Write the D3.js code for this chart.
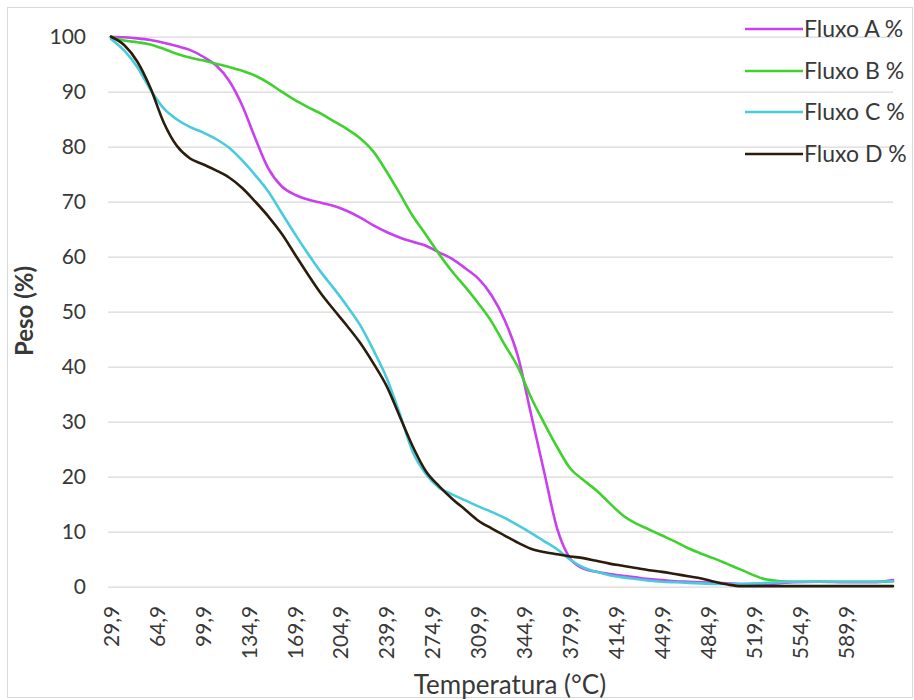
<!DOCTYPE html>
<html>
<head>
<meta charset="utf-8">
<script src="https://cdn.jsdelivr.net/npm/d3@7"></script>
<style>
  html, body { margin: 0; padding: 0; background: #fff; }
  svg { display: block; }
  text { font-family: Lato, "Open Sans", sans-serif; fill: #383838; }
</style>
</head>
<body>
<svg id="chart" width="914" height="700"></svg>
<script>
// Temperature samples (°C)
const temps = [
  29.9, 39.9, 49.9, 59.9, 69.9, 79.9, 89.9, 99.9, 109.9, 119.9,
  129.9, 139.9, 149.9, 159.9, 169.9, 179.9, 189.9, 199.9, 209.9, 219.9,
  229.9, 239.9, 249.9, 259.9, 269.9, 279.9, 289.9, 299.9, 309.9, 319.9,
  329.9, 339.9, 349.9, 359.9, 369.9, 379.9, 389.9, 399.9, 409.9, 419.9,
  429.9, 439.9, 449.9, 459.9, 469.9, 479.9, 489.9, 499.9, 509.9, 529.9,
  549.9, 569.9, 589.9, 609.9, 625.9
];

// Remaining mass (%) for each flux
const fluxoA = [
  100, 99.9, 99.7, 99.4, 98.9, 98.3, 97.6, 96.4, 94.8, 92.0,
  87.5, 81.5, 76.0, 72.8, 71.3, 70.4, 69.8, 69.2, 68.3, 67.1,
  65.7, 64.5, 63.5, 62.7, 62.0, 60.8, 59.6, 57.9, 56.0, 53.0,
  48.5, 42.0, 31.5, 21.0, 10.6, 5.1, 3.3, 2.7, 2.3, 2.0,
  1.7, 1.4, 1.2, 1.0, 0.9, 0.8, 0.7, 0.6, 0.5, 0.5,
  0.8, 0.9, 0.8, 0.8, 1.2
];
const fluxoB = [
  100, 99.3, 99.0, 98.6, 97.8, 96.9, 96.2, 95.7, 95.1, 94.5,
  93.8, 92.9, 91.6, 90.0, 88.5, 87.2, 86.0, 84.6, 83.2, 81.5,
  79.1, 75.5, 71.5, 67.4, 64.0, 60.5, 57.3, 54.5, 51.5, 48.2,
  44.0, 40.0, 34.5, 29.8, 25.4, 21.5, 19.4, 17.5, 15.2, 13.0,
  11.5, 10.4, 9.3, 8.2, 7.0, 6.0, 5.1, 4.1, 3.1, 1.3,
  0.9, 0.9, 0.9, 0.9, 1.0
];
const fluxoC = [
  99.6, 97.5, 94.5, 90.4, 87.0, 85.0, 83.6, 82.6, 81.4, 79.8,
  77.5, 74.8, 71.8, 68.0, 64.2, 60.6, 57.2, 54.2, 51.0, 47.5,
  43.0, 38.0, 31.5, 24.5, 20.5, 18.0, 16.8, 15.7, 14.6, 13.6,
  12.5, 11.2, 9.8, 8.3, 6.8, 4.9, 3.5, 2.7, 2.1, 1.7,
  1.4, 1.1, 0.9, 0.8, 0.7, 0.6, 0.5, 0.5, 0.5, 0.7,
  0.9, 0.9, 0.9, 0.9, 1.0
];
const fluxoD = [
  100, 98.5, 95.5, 90.7, 84.5, 80.2, 77.9, 76.8, 75.7, 74.4,
  72.5, 70.0, 67.3, 64.2, 60.5, 56.8, 53.3, 50.3, 47.4, 44.3,
  40.6, 36.5, 31.0, 25.5, 21.0, 18.3, 16.0, 14.0, 12.0, 10.6,
  9.3, 8.0, 6.9, 6.3, 5.9, 5.5, 5.2, 4.7, 4.2, 3.8,
  3.4, 3.0, 2.7, 2.3, 1.9, 1.5, 0.9, 0.4, 0.1, 0.1,
  0.1, 0.1, 0.1, 0.1, 0.1
];

const seriesNames = ["Fluxo A %", "Fluxo B %", "Fluxo C %", "Fluxo D %"];
const seriesColors = ["#c941ef", "#3fd12e", "#48cbdc", "#2b1d0c"];
const seriesValues = [fluxoA, fluxoB, fluxoC, fluxoD];

const xTickValues = [29.9, 64.9, 99.9, 134.9, 169.9, 204.9, 239.9, 274.9, 309.9,
  344.9, 379.9, 414.9, 449.9, 484.9, 519.9, 554.9, 589.9];
const yTickValues = [0, 10, 20, 30, 40, 50, 60, 70, 80, 90, 100];

const svg = d3.select("#chart");

// outer chart frame
svg.append("rect")
  .attr("x", 7.5).attr("y", 7.5)
  .attr("width", 905).attr("height", 690)
  .attr("fill", "#fff").attr("stroke", "#d9d9d9");

const plot = { left: 111, right: 893, top: 36.7, bottom: 586.7 };

const x = d3.scaleLinear().domain([29.9, 625.9]).range([plot.left, plot.right]);
const y = d3.scaleLinear().domain([0, 100]).range([plot.bottom, plot.top]);

// horizontal gridlines
svg.append("g")
  .attr("transform", `translate(${plot.left - 3},0)`)
  .call(d3.axisLeft(y).tickValues(yTickValues).tickSize(-(plot.right - plot.left + 3)).tickFormat(""))
  .call(g => g.select(".domain").remove())
  .call(g => g.selectAll(".tick line").attr("stroke", "#d9d9d9").attr("stroke-width", 1.2));

// y axis labels
svg.append("g")
  .attr("transform", `translate(86,0)`)
  .call(d3.axisLeft(y).tickValues(yTickValues).tickSize(0).tickPadding(0))
  .call(g => g.select(".domain").remove())
  .call(g => g.selectAll(".tick text")
    .attr("font-size", 21).attr("fill", "#383838")
    .attr("font-family", "Lato, sans-serif"));

// x axis labels (rotated)
const fmt = d => d.toFixed(1).replace(".", ",");
svg.append("g")
  .attr("transform", `translate(0,${plot.bottom})`)
  .call(d3.axisBottom(x).tickValues(xTickValues).tickSize(0).tickFormat(fmt))
  .call(g => g.select(".domain").remove())
  .call(g => g.selectAll(".tick text")
    .attr("font-size", 21).attr("fill", "#383838")
    .attr("font-family", "Lato, sans-serif")
    .attr("text-anchor", "end")
    .attr("dy", "0.35em")
    .attr("transform", "translate(0,19) rotate(-90)")
    .attr("x", 0).attr("y", 0));

// series lines
const line = d3.line()
  .x((d, i) => x(temps[i]))
  .y(d => y(d))
  .curve(d3.curveMonotoneX);

svg.append("g")
  .selectAll("path")
  .data(seriesValues)
  .join("path")
  .attr("d", line)
  .attr("fill", "none")
  .attr("stroke", (d, i) => seriesColors[i])
  .attr("stroke-width", 2.6)
  .attr("stroke-linejoin", "round")
  .attr("stroke-linecap", "round");

// axis titles
svg.append("text")
  .attr("transform", "translate(33,311) rotate(-90)")
  .attr("text-anchor", "middle")
  .attr("font-size", 24).attr("font-weight", "bold")
  .attr("fill", "#333")
  .text("Peso (%)");

svg.append("text")
  .attr("x", 510).attr("y", 694)
  .attr("text-anchor", "middle")
  .attr("font-size", 26)
  .attr("fill", "#383838")
  .text("Temperatura (°C)");

// legend
const legend = svg.append("g");
const legendY = [29, 71, 112, 154];
seriesNames.forEach((name, i) => {
  legend.append("line")
    .attr("x1", 745).attr("x2", 803)
    .attr("y1", legendY[i]).attr("y2", legendY[i])
    .attr("stroke", seriesColors[i]).attr("stroke-width", 2.6);
  legend.append("text")
    .attr("x", 804).attr("y", legendY[i])
    .attr("dy", "0.35em")
    .attr("font-size", 23)
    .attr("fill", "#383838")
    .text(name);
});
</script>
</body>
</html>
